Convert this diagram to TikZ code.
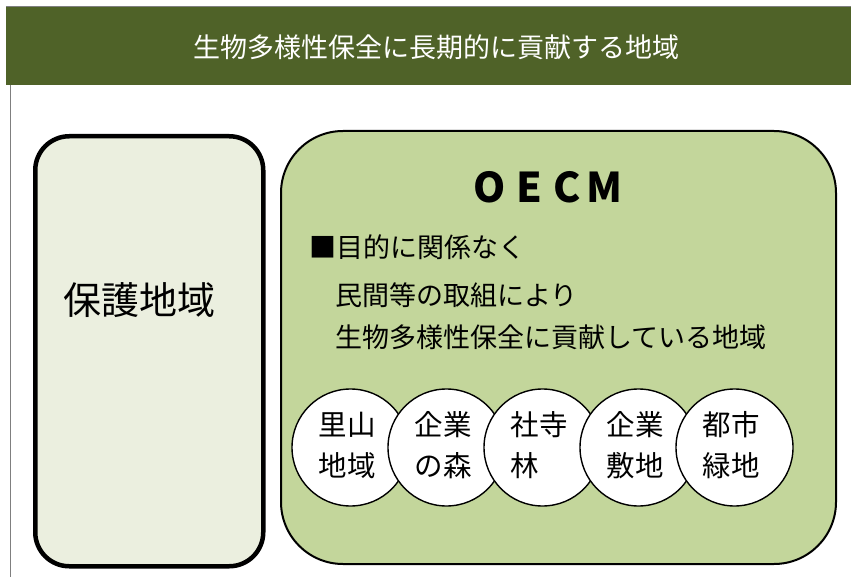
\documentclass[tikz,border=0pt]{standalone}
\usepackage{fontspec}
\setmainfont{Noto Sans CJK JP}
\definecolor{hdr}{HTML}{4F6228}
\definecolor{palebox}{HTML}{EBEFDF}
\definecolor{oecmfill}{HTML}{C3D69B}
\definecolor{frame}{HTML}{7F7F7F}
\begin{document}
\begin{tikzpicture}[x=1pt,y=-1pt,
  site/.style={circle,draw=black,line width=1.4pt,fill=white,minimum size=117pt,inner sep=0pt},
  sitetext/.style={inner sep=0pt,font=\fontsize{28.5}{41}\selectfont,align=left},
  bodytext/.style={anchor=west,inner sep=0pt,font=\fontsize{27}{30}\selectfont}]
\useasboundingbox (0,0) rectangle (851,577);
% header band
\node[fill=hdr,draw=none,minimum width=845pt,minimum height=78pt,inner sep=0pt,anchor=north west] (band) at (6,7) {};
\node[text=white,inner sep=0pt,font=\fontsize{27}{30}\selectfont] (title) at (436,47) {生物多様性保全に長期的に貢献する地域};
\coordinate (ftop) at (10,85);
\coordinate (fbot) at (10,577);
\draw[frame,line width=1pt] (ftop) -- (fbot);
\draw[frame,line width=1pt] (band.north west) -- (band.north east);
% protected area box
\node[draw=black,line width=4.5pt,fill=palebox,rounded corners=34pt,minimum width=228pt,minimum height=430pt,
  inner sep=0pt,anchor=north west] (pa) at (33,134) {};
\node[inner sep=0pt,font=\fontsize{38}{40}\selectfont] (patext) at (139,300) {保護地域};
% OECM box
\node[draw=black,line width=2pt,fill=oecmfill,rounded corners=62pt,minimum width=555pt,minimum height=433pt,
  inner sep=0pt,anchor=north west] (oecm) at (280,130) {};
\begin{scope}[font=\fontsize{41}{41}\selectfont\bfseries]
\node (o1) at (490,187) {O};
\node (o2) at (529,187) {E};
\node (o3) at (567,187) {C};
\node (o4) at (604,187) {M};
\end{scope}
\node[bodytext] (l1) at (309,247) {■目的に関係なく};
\node[bodytext] (l2) at (335,295) {民間等の取組により};
\node[bodytext] (l3) at (335,337) {生物多様性保全に貢献している地域};
% sites
\node[site] (c1) at (350.5,447.5) {};
\node[sitetext] (t1) at (347,445.5) {里山\\地域};
\node[site] (c2) at (446.5,447.5) {};
\node[sitetext] (t2) at (443,445.5) {企業\\の森};
\node[site] (c3) at (542.5,447.5) {};
\node[sitetext] (t3) at (539,445.5) {社寺\\林\hphantom{寺}};
\node[site] (c4) at (638.5,447.5) {};
\node[sitetext] (t4) at (635,445.5) {企業\\敷地};
\node[site] (c5) at (734.5,447.5) {};
\node[sitetext] (t5) at (731,445.5) {都市\\緑地};
\end{tikzpicture}
\end{document}
